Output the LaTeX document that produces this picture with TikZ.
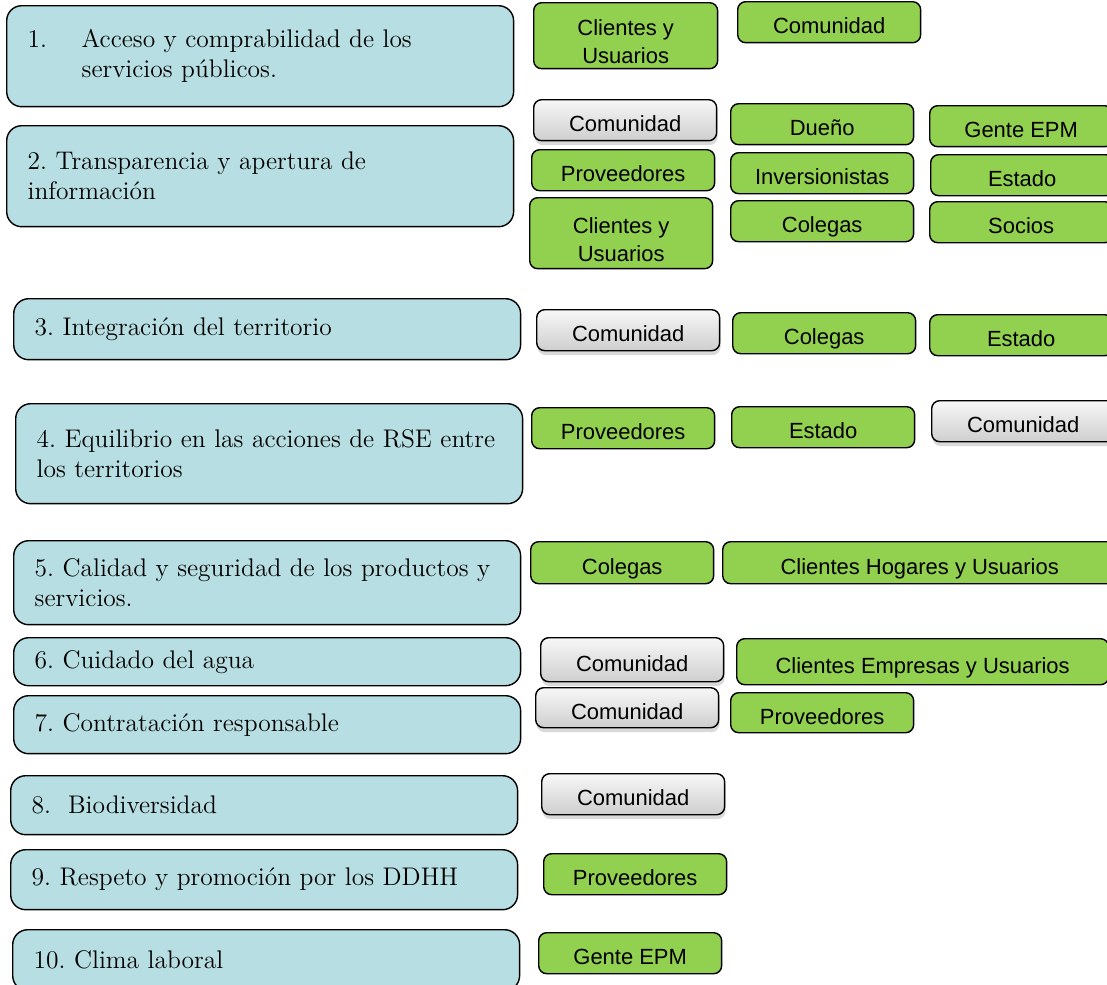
\documentclass[tikz,border=0pt]{standalone}
\usepackage{fontspec}
\newfontfamily\arial{Liberation Sans}
\usetikzlibrary{shadows}
\definecolor{celeste}{HTML}{B7DEE2}
\definecolor{verdeRSE}{HTML}{92D050}
\frenchspacing

\begin{document}
\begin{tikzpicture}[x=0.02cm, y=-0.02cm,
    tema/.style={draw, fill=celeste, rounded corners=0.3cm, line width=0.8pt, anchor=north west, align=left, inner xsep=0.42cm, text width=9.3cm, font=\fontsize{14.5}{17}\selectfont},
    grupo/.style={draw, rounded corners=0.16cm, line width=0.8pt, anchor=north west, inner sep=0pt, minimum width=3.66cm, minimum height=0.82cm, align=center, text height=1.3em, text depth=0pt, font=\arial\fontsize{12.5}{16}\selectfont},
    verde/.style={grupo, fill=verdeRSE},
    gris/.style={grupo, top color=gray!6, bottom color=gray!38, drop shadow={shadow xshift=0.5pt, shadow yshift=-2.5pt, opacity=0.3}},
    doble/.style={text height=34pt, text depth=2pt}]
    \path[use as bounding box, clip] (0,0) rectangle (1107,985);

    \node[tema, minimum height=2.02cm] (t1) at (6,5) {\makebox[1.08cm][l]{1.}Acceso y comprabilidad de los\\\hspace*{1.08cm}servicios públicos.};
    \node[tema, minimum height=2.02cm] (t2) at (6,125) {2. Transparencia y apertura de\\información};
    \node[tema, minimum height=1.22cm] (t3) at (13,298) {3. Integración del territorio};
    \node[tema, minimum height=2cm] (t4) at (15,403) {4. Equilibrio en las acciones de RSE entre\\los territorios};
    \node[tema, minimum height=1.68cm] (t5) at (13,540) {5. Calidad y seguridad de los productos y\\servicios.};
    \node[tema, minimum height=0.96cm] (t6) at (13,637) {6. Cuidado del agua};
    \node[tema, minimum height=1.16cm] (t7) at (13,695) {7. Contratación responsable};
    \node[tema, minimum height=1.18cm] (t8) at (10,775) {8.\ \ Biodiversidad};
    \node[tema, minimum height=1.2cm] (t9) at (10,849) {9. Respeto y promoción por los DDHH};
    \node[tema, minimum height=1.22cm] (t10) at (12,929) {10. Clima laboral};

    \node[verde, doble, minimum width=3.68cm, minimum height=1.32cm] (c1a) at (533,2) {Clientes y\\Usuarios};
    \node[verde] (c1b) at (737,1) {Comunidad};

    \node[gris] (c2a) at (533,99) {Comunidad};
    \node[verde] (c2b) at (730,103) {Dueño};
    \node[verde] (c2c) at (929,105) {Gente EPM};
    \node[verde] (c2d) at (531,149) {Proveedores};
    \node[verde] (c2e) at (730,152) {Inversionistas};
    \node[verde] (c2f) at (930,154) {Estado};
    \node[verde, doble, minimum height=1.42cm] (c2g) at (529,197) {Clientes y\\Usuarios};
    \node[verde] (c2h) at (730,200) {Colegas};
    \node[verde] (c2i) at (929,201) {Socios};

    \node[gris] (c3a) at (536,309) {Comunidad};
    \node[verde] (c3b) at (732,312) {Colegas};
    \node[verde] (c3c) at (929,314) {Estado};

    \node[verde] (c4a) at (531,407) {Proveedores};
    \node[verde] (c4b) at (731,406) {Estado};
    \node[gris] (c4c) at (931,400) {Comunidad};

    \node[verde, minimum height=0.84cm] (c5a) at (530,541) {Colegas};
    \node[verde, minimum width=7.88cm, minimum height=0.84cm] (c5b) at (722,541) {Clientes Hogares y Usuarios};

    \node[gris, minimum height=0.88cm] (c6a) at (540,637) {Comunidad};
    \node[verde, minimum width=7.44cm, minimum height=0.92cm] (c6b) at (736,638) {Clientes Empresas y Usuarios};

    \node[gris, minimum height=0.8cm] (c7a) at (535,687) {Comunidad};
    \node[verde, minimum height=0.8cm] (c7b) at (730,692) {Proveedores};

    \node[gris] (c8a) at (541,773) {Comunidad};
    \node[verde] (c9a) at (543,853) {Proveedores};
    \node[verde] (c10a) at (538,932) {Gente EPM};
\end{tikzpicture}
\end{document}
